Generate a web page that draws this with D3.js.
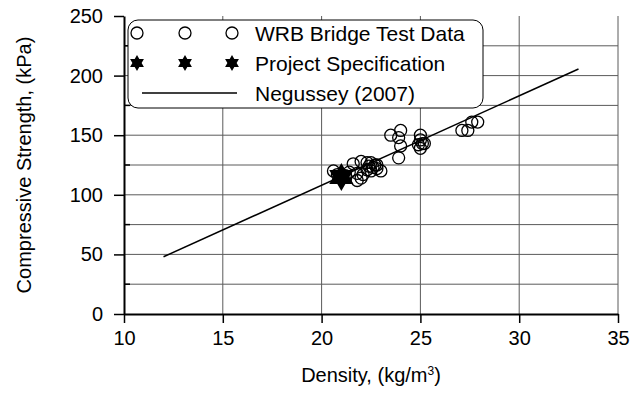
<!DOCTYPE html>
<html>
<head>
<meta charset="utf-8">
<script src="https://cdn.jsdelivr.net/npm/d3@7"></script>
<style>
  body { margin: 0; background: #fff; }
  svg text { font-family: "Liberation Sans", Arial, sans-serif; fill: #000; }
</style>
</head>
<body>
<svg width="642" height="393"></svg>
<script>
// WRB bridge test data: [density kg/m3, compressive strength kPa]
const wrbData = [
    [20.6, 120], [20.8, 117], [21.2, 116], [21.4, 119], [21.6, 126], [21.8, 118],
    [21.8, 112], [22.0, 128], [22.0, 114], [22.1, 117], [22.3, 127], [22.3, 121],
    [22.4, 124], [22.5, 120], [22.5, 127], [22.6, 123], [22.7, 125], [22.8, 125],
    [22.8, 122], [23.0, 120], [23.5, 150], [23.9, 148], [24.0, 154], [24.0, 141],
    [23.9, 131], [25.0, 150], [25.0, 146], [24.9, 142], [25.1, 143], [25.2, 143],
    [25.0, 139], [27.1, 154], [27.4, 154], [27.6, 161], [27.9, 161]
];
const specData = [[21.0, 115]];
const negusseyLine = [[12, 48], [33, 205.5]];

const xTicks = [10, 15, 20, 25, 30, 35];
const yTicks = [0, 50, 100, 150, 200, 250];
const yGrid = [25, 50, 75, 100, 125, 150, 175, 200, 225];

const legendItems = ["WRB Bridge Test Data", "Project Specification", "Negussey (2007)"];

const svg = d3.select("svg");
const margin = { top: 16, right: 24, bottom: 79, left: 124 };
const width = +svg.attr("width") - margin.left - margin.right;
const height = +svg.attr("height") - margin.top - margin.bottom;
const g = svg.append("g").attr("transform", `translate(${margin.left},${margin.top})`);

const x = d3.scaleLinear().domain([10, 35]).range([0, width]);
const y = d3.scaleLinear().domain([0, 250]).range([height, 0]);

// grid
g.selectAll(".hgrid").data(yGrid).enter().append("line")
    .attr("x1", 0).attr("x2", width)
    .attr("y1", d => y(d)).attr("y2", d => y(d))
    .attr("stroke", "#5a5a5a").attr("stroke-width", 1);
g.selectAll(".vgrid").data(xTicks.slice(1)).enter().append("line")
    .attr("x1", d => x(d)).attr("x2", d => x(d))
    .attr("y1", 0).attr("y2", height)
    .attr("stroke", "#5a5a5a").attr("stroke-width", 1);

// axes
const xAxis = g.append("g")
    .attr("transform", `translate(0,${height})`)
    .call(d3.axisBottom(x).tickValues(xTicks).tickSize(9).tickSizeOuter(0));
const yAxis = g.append("g")
    .call(d3.axisLeft(y).tickValues(yTicks).tickSize(10).tickSizeOuter(0));
[xAxis, yAxis].forEach(a => {
    a.select(".domain").attr("stroke", "#000").attr("stroke-width", 2);
    a.selectAll(".tick line").attr("stroke", "#000").attr("stroke-width", 1.5);
    a.selectAll(".tick text").attr("font-size", 20).attr("font-family", "Liberation Sans, Arial, sans-serif");
});
xAxis.selectAll(".tick text").attr("dy", "0.95em");
yAxis.selectAll(".tick text").attr("dx", "-0.4em");
// minor y ticks
g.selectAll(".ymin").data([25, 75, 125, 175, 225]).enter().append("line")
    .attr("x1", 0).attr("x2", 6)
    .attr("y1", d => y(d)).attr("y2", d => y(d))
    .attr("stroke", "#000").attr("stroke-width", 1.5);

// regression line
const line = d3.line().x(d => x(d[0])).y(d => y(d[1]));
g.append("path").datum(negusseyLine)
    .attr("d", line).attr("fill", "none")
    .attr("stroke", "#000").attr("stroke-width", 1.5);

// hexagram path centred on 0,0
function hexagram(r) {
    const pts = [];
    for (let i = 0; i < 12; i++) {
        const a = -Math.PI / 2 + i * Math.PI / 6;
        const rr = i % 2 === 0 ? r : r / Math.sqrt(3);
        pts.push([rr * Math.cos(a), rr * Math.sin(a)]);
    }
    return "M" + pts.map(p => p.join(",")).join("L") + "Z";
}

// data points
g.selectAll(".wrb").data(wrbData).enter().append("circle")
    .attr("cx", d => x(d[0])).attr("cy", d => y(d[1]))
    .attr("r", 6).attr("fill", "none")
    .attr("stroke", "#000").attr("stroke-width", 1.3);

g.selectAll(".spec").data(specData).enter().append("path")
    .attr("transform", d => `translate(${x(d[0])},${y(d[1])})`)
    .attr("d", hexagram(14)).attr("fill", "#000");

// axis titles
svg.append("text")
    .attr("x", margin.left + width / 2).attr("y", 382)
    .attr("text-anchor", "middle").attr("font-size", 20)
    .html('Density, (kg/m<tspan font-size="12" dy="-7">3</tspan><tspan dy="7">)</tspan>');
svg.append("text")
    .attr("transform", `translate(31,${margin.top + height / 2}) rotate(-90)`)
    .attr("text-anchor", "middle").attr("font-size", 20)
    .text("Compressive Strength, (kPa)");

// legend
const lg = svg.append("g").attr("transform", "translate(128,20)");
lg.append("rect")
    .attr("width", 355).attr("height", 88).attr("rx", 10)
    .attr("fill", "#fff").attr("stroke", "#000").attr("stroke-width", 1);
const markerX = [9, 57, 104];
legendItems.forEach((name, i) => {
    const cy = 13 + i * 30;
    if (i === 0) {
        markerX.forEach(mx => lg.append("circle").attr("cx", mx).attr("cy", cy)
            .attr("r", 6).attr("fill", "none").attr("stroke", "#000").attr("stroke-width", 1.3));
    } else if (i === 1) {
        markerX.forEach(mx => lg.append("path").attr("transform", `translate(${mx},${cy})`)
            .attr("d", hexagram(8)).attr("fill", "#000"));
    } else {
        lg.append("line").attr("x1", 14).attr("x2", 109).attr("y1", cy).attr("y2", cy)
            .attr("stroke", "#000").attr("stroke-width", 1.5);
    }
    lg.append("text").attr("x", 127).attr("y", cy).attr("dy", "0.36em")
        .attr("font-size", 21).text(name);
});
</script>
</body>
</html>
